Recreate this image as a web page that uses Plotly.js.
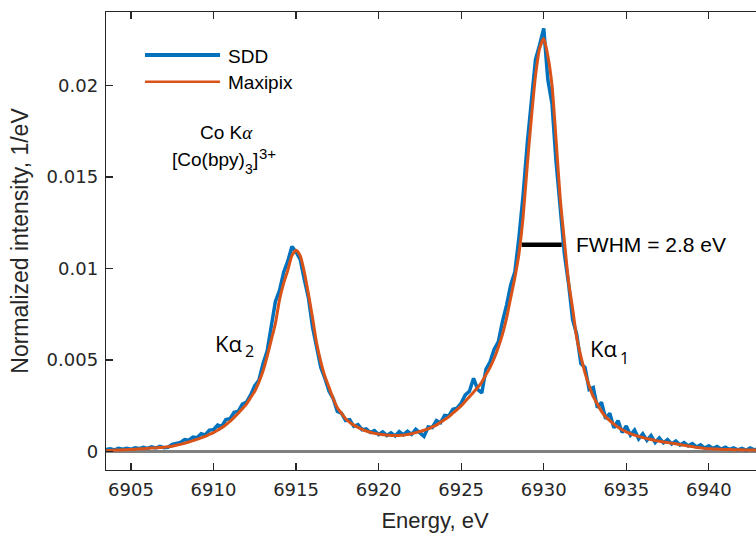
<!DOCTYPE html>
<html><head><meta charset="utf-8">
<script src="https://cdn.plot.ly/plotly-3.0.1.min.js"></script>
<style>html,body{margin:0;padding:0;overflow:hidden;background:#fff}</style>
</head><body><div id="chart" style="width:772px;height:538px"></div>
<script>
// Energy grid (eV)
const energy = [
6903.5,6903.75,6904,6904.25,6904.5,6904.75,6905,6905.25,
6905.5,6905.75,6906,6906.25,6906.5,6906.75,6907,6907.25,
6907.5,6907.75,6908,6908.25,6908.5,6908.75,6909,6909.25,
6909.5,6909.75,6910,6910.25,6910.5,6910.75,6911,6911.25,
6911.5,6911.75,6912,6912.25,6912.5,6912.75,6913,6913.25,
6913.5,6913.75,6914,6914.25,6914.5,6914.75,6915,6915.25,
6915.5,6915.75,6916,6916.25,6916.5,6916.75,6917,6917.25,
6917.5,6917.75,6918,6918.25,6918.5,6918.75,6919,6919.25,
6919.5,6919.75,6920,6920.25,6920.5,6920.75,6921,6921.25,
6921.5,6921.75,6922,6922.25,6922.5,6922.75,6923,6923.25,
6923.5,6923.75,6924,6924.25,6924.5,6924.75,6925,6925.25,
6925.5,6925.75,6926,6926.25,6926.5,6926.75,6927,6927.25,
6927.5,6927.75,6928,6928.25,6928.5,6928.75,6929,6929.25,
6929.5,6929.75,6930,6930.25,6930.5,6930.75,6931,6931.25,
6931.5,6931.75,6932,6932.25,6932.5,6932.75,6933,6933.25,
6933.5,6933.75,6934,6934.25,6934.5,6934.75,6935,6935.25,
6935.5,6935.75,6936,6936.25,6936.5,6936.75,6937,6937.25,
6937.5,6937.75,6938,6938.25,6938.5,6938.75,6939,6939.25,
6939.5,6939.75,6940,6940.25,6940.5,6940.75,6941,6941.25,
6941.5,6941.75,6942,6942.25,6942.5,6942.75,6943,6943.25,
6943.5];

// SDD measured spectrum (1/eV)
const sdd = [
0.00012,0.00016,0.0001,0.00018,0.00014,0.00019,0.00013,0.00021,
0.00017,0.00024,0.00018,0.00026,0.0002,0.00029,0.00022,0.00024,
0.0004,0.00047,0.0005,0.00066,0.00062,0.0008,0.00076,0.00098,
0.00092,0.00118,0.0012,0.00145,0.00138,0.00175,0.0018,0.00215,
0.0022,0.0026,0.0027,0.0031,0.0036,0.0039,0.0048,0.0055,
0.0068,0.0082,0.0088,0.0098,0.0104,0.0112,0.0109,0.0105,
0.0094,0.0084,0.0068,0.0057,0.0046,0.0040,0.0033,0.0029,
0.0022,0.0021,0.0017,0.00175,0.00138,0.00148,0.0012,0.00125,
0.00105,0.00115,0.00094,0.00108,0.00088,0.00103,0.00086,0.0011,
0.00092,0.00112,0.00095,0.00122,0.00104,0.00084,0.00135,0.00132,
0.0017,0.00158,0.00198,0.00195,0.00232,0.00238,0.00265,0.0031,
0.0033,0.0040,0.0034,0.0032,0.0045,0.0049,0.0056,0.0060,
0.0071,0.0080,0.0091,0.0098,0.0117,0.0140,0.0168,0.0192,
0.0214,0.0222,0.0231,0.0203,0.0190,0.0158,0.0132,0.0108,
0.0092,0.0072,0.0064,0.0048,0.0046,0.0034,0.0035,0.0024,
0.0027,0.0018,0.0021,0.0013,0.0017,0.00105,0.0014,0.0009,
0.00118,0.0007,0.00098,0.00062,0.00088,0.0005,0.00075,0.00048,
0.00066,0.00042,0.00058,0.00036,0.0005,0.00032,0.00044,0.00026,
0.00038,0.0002,0.00032,0.00018,0.00028,0.00014,0.00024,0.00012,
0.00021,0.0001,0.00018,0.00008,0.0002,0.0001,0.00016,0.00007,
0.00013];

// Maxipix spectrum (1/eV)
const maxipix = [
0.00006,0.00007,0.00008,0.00009,0.0001,0.00011,0.00012,0.00013,
0.00015,0.00016,0.00018,0.0002,0.00021,0.00023,0.00024,0.00027,
0.0003,0.00035,0.0004,0.00046,0.00053,0.0006,0.00067,0.00075,
0.00084,0.00094,0.00104,0.00117,0.0013,0.00147,0.00165,0.00187,
0.0021,0.00235,0.0026,0.00295,0.0033,0.0038,0.0044,0.0052,
0.0061,0.0070,0.0083,0.0092,0.0099,0.0107,0.0110,0.0107,
0.0098,0.0086,0.0073,0.0059,0.0049,0.0041,0.0035,0.0029,
0.0024,0.0021,0.0018,0.0016,0.00145,0.00133,0.00122,0.00113,
0.00106,0.001,0.00096,0.00093,0.0009,0.00089,0.00088,0.00089,
0.0009,0.00094,0.00098,0.00104,0.0011,0.00117,0.00125,0.00135,
0.00145,0.0016,0.00175,0.0019,0.0021,0.0023,0.0025,0.00275,
0.003,0.00325,0.0035,0.0038,0.0042,0.0046,0.0051,0.0057,
0.0064,0.0073,0.0084,0.0095,0.0108,0.0128,0.0156,0.0182,
0.0205,0.0220,0.02255,0.0216,0.0200,0.0170,0.0138,0.0115,
0.0093,0.0078,0.0062,0.0052,0.0043,0.0036,0.0030,0.0026,
0.0022,0.0019,0.0017,0.0015,0.00133,0.0012,0.00108,0.00098,
0.0009,0.00083,0.00077,0.00071,0.00066,0.00061,0.00057,0.00053,
0.0005,0.00046,0.00043,0.00039,0.00035,0.00031,0.00028,0.00024,
0.00021,0.00018,0.00016,0.00015,0.00014,0.00013,0.00012,0.000115,
0.00011,0.000105,0.0001,0.000095,0.00009,0.000085,0.00008,0.000075,
0.00007];

const seriesNames = ['SDD', 'Maxipix'];
const xTickVals = [6905, 6910, 6915, 6920, 6925, 6930, 6935, 6940];
const yTickVals = [0, 0.005, 0.01, 0.015, 0.02];
const yTickText = ['0', '0.005', '0.01', '0.015', '0.02'];
const fwhmEnergy = [6928.67, 6931.09];
const fwhmLevel = [0.0113, 0.0113];
const fwhmLabel = 'FWHM = 2.8 eV';

const AX = '#262626';
const SANS = 'Liberation Sans, Arial, sans-serif';
const TICKFONT = 'DejaVu Sans, Liberation Sans, sans-serif';
const LBL = 'Open Sans, Noto Sans, sans-serif';
const BLUE = '#0072BD', ORANGE = '#D95319';

const traces = [
  {x: energy, y: sdd, name: seriesNames[0], type: 'scatter', mode: 'lines',
   line: {color: BLUE, width: 3.5}, hoverinfo: 'skip'},
  {x: energy, y: maxipix, name: seriesNames[1], type: 'scatter', mode: 'lines',
   line: {color: ORANGE, width: 3, shape: 'spline', smoothing: 0.6}, hoverinfo: 'skip'},
  {x: fwhmEnergy, y: fwhmLevel, type: 'scatter', mode: 'lines', showlegend: false,
   line: {color: '#000000', width: 4.5}, hoverinfo: 'skip'}
];

const axisCommon = {
  showline: true, linecolor: AX, linewidth: 1.3, mirror: 'ticks',
  ticks: 'inside', ticklen: 7, tickwidth: 1.3, tickcolor: AX,
  showgrid: false, ticklabelstandoff: 3,
  tickfont: {family: TICKFONT, size: 18, color: AX}
};

function note(x, y, text, family, size) {
  return {xref: 'paper', yref: 'paper', x: x, y: y, xanchor: 'left', yanchor: 'middle',
          text: text, showarrow: false, font: {family: family, size: size, color: '#000'}};
}

const layout = {
  width: 772, height: 538,
  margin: {l: 106, r: 8, t: 12, b: 68},
  paper_bgcolor: '#ffffff', plot_bgcolor: '#ffffff',
  showlegend: false,
  xaxis: Object.assign({}, axisCommon, {
    range: [6903.49, 6943.34], tickvals: xTickVals, zeroline: false,
    title: {text: 'Energy, eV', font: {family: SANS, size: 22, color: AX}, standoff: 13}
  }),
  yaxis: Object.assign({}, axisCommon, {
    range: [-0.001, 0.024], tickvals: yTickVals, ticktext: yTickText,
    zeroline: true, zerolinecolor: '#808080', zerolinewidth: 3,
    title: {text: 'Normalized intensity, 1/eV', font: {family: SANS, size: 23, color: AX}, standoff: 11}
  }),
  shapes: [
    {type: 'line', xref: 'paper', yref: 'paper', x0: 0.0593, x1: 0.1733, y0: 0.9061, y1: 0.9061,
     line: {color: BLUE, width: 4}},
    {type: 'line', xref: 'paper', yref: 'paper', x0: 0.0593, x1: 0.1733, y0: 0.8478, y1: 0.8478,
     line: {color: ORANGE, width: 2.5}}
  ],
  annotations: [
    note(0.183, 0.903, seriesNames[0], SANS, 19),
    note(0.183, 0.845, seriesNames[1], SANS, 19),
    {xref: 'paper', yref: 'paper', x: 0.1824, y: 0.736, xanchor: 'center', yanchor: 'middle',
     text: 'Co K<span style="font-family:Liberation Serif;font-style:italic">α</span>', showarrow: false,
     font: {family: SANS, size: 19, color: '#000'}},
    // [Co(bpy)3]3+ built from pieces
    note(0.0973, 0.679, '[Co(bpy)', SANS, 19),
    note(0.2082, 0.6572, '3', SANS, 14),
    note(0.2204, 0.679, ']', SANS, 19),
    note(0.2295, 0.6921, '3+', SANS, 15),
    // Kα2
    note(0.1626, 0.2766, 'Kα', LBL, 22),
    note(0.2082, 0.2598, '2', LBL, 16),
    // Kα1
    note(0.7325, 0.2657, 'Kα', LBL, 22),
    note(0.7781, 0.2456, '1', LBL, 16),
    note(0.712, 0.4934, fwhmLabel, SANS, 21)
  ]
};

Plotly.newPlot('chart', traces, layout, {staticPlot: true, displayModeBar: false});
</script>
</body></html>
